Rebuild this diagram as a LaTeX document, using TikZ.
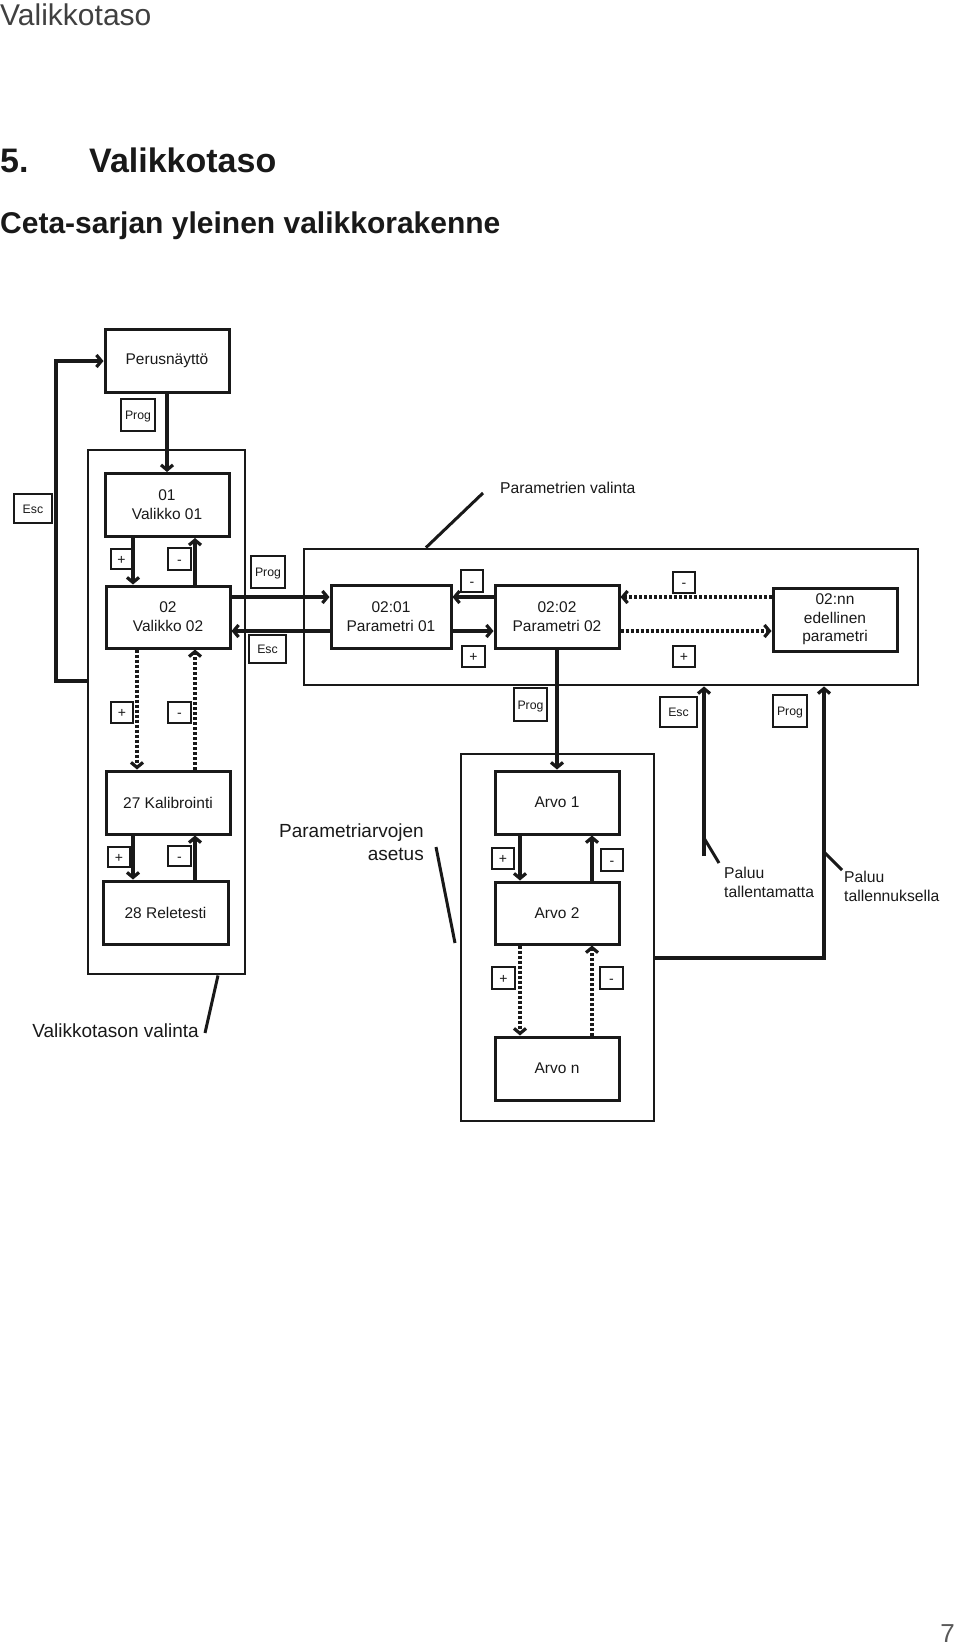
\documentclass[tikz,border=0pt]{standalone}
\usepackage{fontspec}
\setmainfont{Liberation Sans}
\usetikzlibrary{arrows.meta}

\begin{document}
\begin{tikzpicture}[x=1pt,y=-1pt,
  every node/.style={text=black!90},
  mbox/.style={draw=black!90,line width=3pt,minimum width=124pt,minimum height=63pt,inner sep=0pt,align=center,font=\fontsize{15.5}{19}\selectfont},
  panel/.style={draw=black!90,line width=2.9pt,inner sep=0pt},
  btn/.style={draw=black!90,line width=2pt,minimum width=22pt,minimum height=21pt,inner sep=0pt,text height=10pt,text depth=0pt,font=\fontsize{14}{16}\selectfont},
  btnw/.style={btn,minimum width=35pt,minimum height=31pt,text height=9pt,font=\fontsize{12.3}{14}\selectfont},
  arr/.style={draw=black!90,line width=3.2pt,-{Straight Barb[length=5pt,width=12pt]}},
  dotarr/.style={arr,dash pattern=on 3pt off 2pt},
  leader/.style={draw=black!90,line width=3pt},
  lbl/.style={inner sep=0pt,font=\fontsize{15.7}{19}\selectfont,align=left}]
\useasboundingbox (0,0) rectangle (960,1647);

\node[anchor=base west,inner sep=0pt,text=black!75,font=\fontsize{30}{36}\selectfont] (pagehead) at (0,25) {Valikkotaso};
\node[anchor=base west,inner sep=0pt,font=\fontsize{34}{40}\selectfont\bfseries] (secnum) at (0,172) {5.};
\node[anchor=base west,inner sep=0pt,font=\fontsize{34}{40}\selectfont\bfseries] (sectitle) at (89,172) {Valikkotaso};
\node[anchor=base west,inner sep=0pt,font=\fontsize{30}{36}\selectfont\bfseries] (subtitle) at (0,233) {Ceta-sarjan yleinen valikkorakenne};
\node[anchor=base east,inner sep=0pt,text=black!65,font=\fontsize{26}{30}\selectfont] (pagenum) at (955,1642) {7};

\node[panel,minimum width=157pt,minimum height=524pt] (menuframe) at (166.5,712) {};
\node[panel,minimum width=614pt,minimum height=136pt] (parframe) at (611,617) {};
\node[panel,minimum width=193pt,minimum height=367pt] (arvoframe) at (557.5,937.5) {};

\node[mbox] (perus) at (167,361) {Perusnäyttö};
\node[mbox] (val01) at (167,505) {01\\Valikko 01};
\node[mbox,minimum height=62pt] (val02) at (168,617) {02\\Valikko 02};
\node[mbox] (kal27) at (168,802.5) {27 Kalibrointi};
\node[mbox,minimum width=125pt] (rel28) at (165.5,912.5) {28 Reletesti};
\node[mbox,minimum width=120pt] (par01) at (391,616.5) {02:01\\Parametri 01};
\node[mbox] (par02) at (557,616.5) {02:02\\Parametri 02};
\node[mbox,font=\fontsize{15.5}{18.5}\selectfont] (parnn) at (835,619.5) {02:nn\\edellinen\\parametri};
\node[mbox] (arvo1) at (557,802.5) {Arvo 1};
\node[mbox,minimum height=62pt] (arvo2) at (557,913) {Arvo 2};
\node[mbox] (arvon) at (557,1068.5) {Arvo n};

\node[btnw,minimum width=34pt,minimum height=32pt] (kprogA) at (138,415) {Prog};
\node[btnw,minimum width=38pt,minimum height=29pt] (kescA) at (33,508.5) {Esc};
\node[btn,minimum width=21pt,minimum height=20pt] (kplusA) at (121.5,559) {+};
\node[btn,minimum width=23pt,minimum height=22pt] (kminusA) at (179.5,559) {-};
\node[btnw,minimum width=34pt,minimum height=32pt] (kprogB) at (268,572) {Prog};
\node[btnw,minimum width=37pt,minimum height=28pt] (kescB) at (267.5,649) {Esc};
\node[btn] (kplusB) at (122,712.5) {+};
\node[btn,minimum width=23pt] (kminusB) at (179.5,712.5) {-};
\node[btn,minimum height=20pt] (kplusC) at (119,857) {+};
\node[btn,minimum width=23pt,minimum height=20pt] (kminusC) at (179.5,856) {-};
\node[btn,minimum height=22pt] (kminusD) at (472,581) {-};
\node[btn,minimum width=23pt] (kplusD) at (473.5,656.5) {+};
\node[btn] (kminusE) at (684,582.5) {-};
\node[btn] (kplusE) at (684,656.5) {+};
\node[btnw,minimum width=33pt,minimum height=33pt] (kprogC) at (530.5,704.5) {Prog};
\node[btnw,minimum width=37pt,minimum height=30pt] (kescC) at (678.5,712) {Esc};
\node[btnw,minimum width=34pt,minimum height=32pt] (kprogD) at (790,711) {Prog};
\node[btn] (kplusF) at (503,858.5) {+};
\node[btn,minimum height=22pt] (kminusF) at (612,860) {-};
\node[btn,minimum width=23pt,minimum height=22pt] (kplusG) at (503.5,978) {+};
\node[btn,minimum width=23pt,minimum height=22pt] (kminusG) at (611.5,978) {-};

\coordinate (lplus) at (133,0);
\coordinate (lplusd) at (137,0);
\coordinate (lminus) at (195,0);
\coordinate (aplus) at (520,0);
\coordinate (aminus) at (592,0);
\coordinate (hfwd) at (0,597);
\coordinate (hback) at (0,631);
\coordinate (escturn) at (56,681);
\coordinate (escfoot) at (704,856);
\coordinate (escknee) at (704,838);
\coordinate (progturn) at (824,958);
\coordinate (progknee) at (824,852);

\draw[arr] (perus) -- (val01);
\draw[arr] (val01.south -| lplus) -- (val02.north -| lplus);
\draw[arr] (val02.north -| lminus) -- (val01.south -| lminus);
\draw[dotarr] (val02.south -| lplusd) -- (kal27.north -| lplusd);
\draw[dotarr] (kal27.north -| lminus) -- (val02.south -| lminus);
\draw[arr] (kal27.south -| lplus) -- (rel28.north -| lplus);
\draw[arr] (rel28.north -| lminus) -- (kal27.south -| lminus);
\draw[arr] (val02.east |- hfwd) -- (par01.west |- hfwd);
\draw[arr] (par01.west |- hback) -- (val02.east |- hback);
\draw[arr] (par02.west |- hfwd) -- (par01.east |- hfwd);
\draw[arr] (par01.east |- hback) -- (par02.west |- hback);
\draw[dotarr] (parnn.west |- hfwd) -- (par02.east |- hfwd);
\draw[dotarr] (par02.east |- hback) -- (parnn.west |- hback);
\draw[arr] (par02) -- (arvo1);
\draw[arr] (arvo1.south -| aplus) -- (arvo2.north -| aplus);
\draw[arr] (arvo2.north -| aminus) -- (arvo1.south -| aminus);
\draw[dotarr] (arvo2.south -| aplus) -- (arvon.north -| aplus);
\draw[dotarr] (arvon.north -| aminus) -- (arvo2.south -| aminus);
\draw[arr] (menuframe.west |- escturn) -- (escturn) |- (perus.west);
\draw[arr] (escfoot) -- (escfoot |- parframe.south);
\draw[arr] (arvoframe.east |- progturn) -- (progturn) -- (progturn |- parframe.south);

\node[lbl,font=\fontsize{19}{23}\selectfont,anchor=east] (menulbl) at (199,1031) {Valikkotason valinta};
\draw[leader] (menulbl.east) ++(6,2) -- ([xshift=51.5pt]menuframe.south);
\node[lbl,anchor=west] (parlbl) at (500,488) {Parametrien valinta};
\draw[leader] (parlbl.west) ++(-17,5) -- ([xshift=-185pt]parframe.north);
\node[lbl,font=\fontsize{19}{23}\selectfont,align=right,anchor=east] (arvolbl) at (424,842.5) {Parametriarvojen\\asetus};
\draw[leader] (arvolbl.east) ++(12,4.5) -- ++(19,96);
\node[lbl,anchor=base west] (esclbl) at (724,897) {Paluu\\tallentamatta};
\draw[leader] (escknee) -- ++(15,25);
\node[lbl,anchor=base west] (proglbl) at (844,901) {Paluu\\tallennuksella};
\draw[leader] (progknee) -- ++(18,18);
\end{tikzpicture}
\end{document}
